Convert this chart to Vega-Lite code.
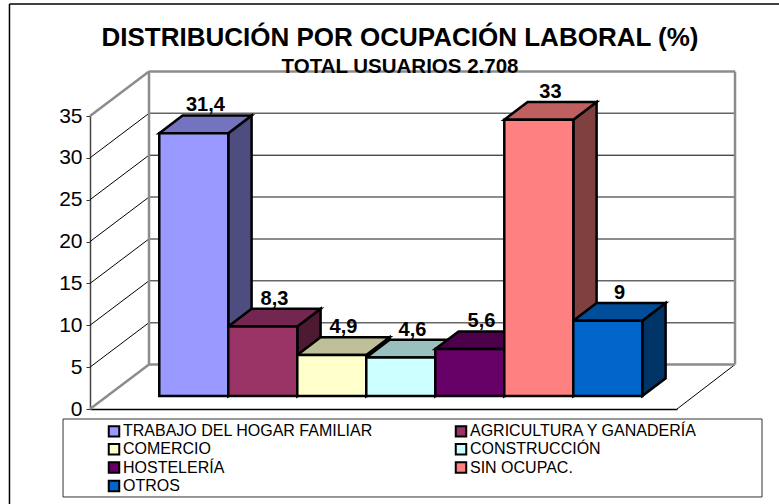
{
 "$schema":"https://vega.github.io/schema/vega-lite/v6.json",
 "width":587,"height":293,
 "autosize":{"type":"none"},
 "padding":{"left":90,"top":116,"right":102,"bottom":95},
 "background":"white",
 "title":{"text":"DISTRIBUCIÓN POR OCUPACIÓN LABORAL (%)","subtitle":"TOTAL USUARIOS 2.708","anchor":"middle","dx":16.5,"offset":-74,"font":"Liberation Sans","fontSize":26,"fontWeight":"bold","color":"#000","subtitleFont":"Liberation Sans","subtitleFontSize":20.5,"subtitleFontWeight":"bold","subtitleColor":"#000","subtitlePadding":6},
 "config":{"view":{"stroke":null},"font":"Liberation Sans"},
 "data":{"values":[
  {"ocupacion":"TRABAJO DEL HOGAR FAMILIAR","pct":31.4},
  {"ocupacion":"AGRICULTURA Y GANADERÍA","pct":8.3},
  {"ocupacion":"COMERCIO","pct":4.9},
  {"ocupacion":"CONSTRUCCIÓN","pct":4.6},
  {"ocupacion":"HOSTELERÍA","pct":5.6},
  {"ocupacion":"SIN OCUPAC.","pct":33},
  {"ocupacion":"OTROS","pct":9}
 ]},
 "transform":[
  {"window":[{"op":"row_number","as":"n"}]},
  {"calculate":"0.004+datum.n","as":"x0"},
  {"calculate":"datum.x0+1","as":"x1"},
  {"calculate":"1.553+datum.pct","as":"top"},
  {"calculate":"replace(toString(datum.pct),'.',',')","as":"label"}
 ],
 "resolve":{"scale":{"fill":"independent"}},
 "layer":[
  {"data":{"values":[{}]},"mark":{"type":"rule","stroke":"#000","strokeWidth":1.5},
   "encoding":{"x":{"datum":-1.167,"type":"quantitative","scale":{"domain":[0,8.507],"nice":false,"zero":false},"axis":{"title":null,"labels":false,"ticks":false,"grid":false,"domainColor":"#000","domainWidth":1.5}},"x2":{"datum":9.986},"y":{"datum":48.39,"type":"quantitative","scale":{"domain":[0,35],"nice":false},"axis":{"title":null,"values":[0,5,10,15,20,25,30,35],"grid":false,"labelFont":"Liberation Sans","labelFontSize":21,"labelColor":"#000","labelPadding":4,"tickColor":"#333","tickSize":4,"domainColor":"#444","domainWidth":1.5}}}},
  {"data":{"values":[{}]},"mark":{"type":"rule","stroke":"#000","strokeWidth":1.5},
   "encoding":{"x":{"datum":-1.167,"type":"quantitative"},"y":{"datum":48.39,"type":"quantitative"},"y2":{"datum":-11.35}}},
  {"data":{"values":[{"nivel":5},{"nivel":10},{"nivel":15},{"nivel":20},{"nivel":30}]},
   "transform":[{"calculate":"datum.nivel+5.317","as":"fondo"}],
   "mark":{"type":"rule","stroke":"#666","strokeWidth":1.5},
   "encoding":{"x":{"datum":0.855,"type":"quantitative"},"x2":{"datum":9.348},"y":{"field":"fondo","type":"quantitative"}}},
  {"data":{"values":[{"nivel":25}]},
   "transform":[{"calculate":"datum.nivel+5.317","as":"fondo"}],
   "mark":{"type":"rule","stroke":"#000","strokeWidth":1},
   "encoding":{"x":{"datum":0.855,"type":"quantitative"},"x2":{"datum":9.348},"y":{"field":"fondo","type":"quantitative"}}},
  {"data":{"values":[{"nivel":5},{"nivel":10},{"nivel":15},{"nivel":20},{"nivel":25},{"nivel":30}]},
   "transform":[{"calculate":"datum.nivel+5.317","as":"fondo"}],
   "mark":{"type":"rule","stroke":"#000","strokeWidth":1},
   "encoding":{"x":{"datum":0,"type":"quantitative"},"x2":{"datum":0.855},"y":{"field":"nivel","type":"quantitative"},"y2":{"field":"fondo"}}},
  {"data":{"values":[{}]},"mark":{"type":"rule","stroke":"#000","strokeWidth":1},
   "encoding":{"x":{"datum":8.507,"type":"quantitative"},"x2":{"datum":9.348},"y":{"datum":0,"type":"quantitative"},"y2":{"datum":5.317}}},
  {"data":{"values":[{}]},"mark":{"type":"rule","stroke":"#8c8c8c","strokeWidth":2.5},
   "encoding":{"x":{"datum":0,"type":"quantitative"},"x2":{"datum":0.855},"y":{"datum":35,"type":"quantitative"},"y2":{"datum":40.317}}},
  {"data":{"values":[{}]},"mark":{"type":"rule","stroke":"#8c8c8c","strokeWidth":2.5},
   "encoding":{"x":{"datum":0,"type":"quantitative"},"x2":{"datum":0.855},"y":{"datum":0,"type":"quantitative"},"y2":{"datum":5.317}}},
  {"data":{"values":[{}]},"mark":{"type":"rule","stroke":"#8c8c8c","strokeWidth":2.5},
   "encoding":{"x":{"datum":0.855,"type":"quantitative"},"y":{"datum":5.317,"type":"quantitative"},"y2":{"datum":40.317}}},
  {"data":{"values":[{}]},"mark":{"type":"rule","stroke":"#8c8c8c","strokeWidth":2.5},
   "encoding":{"x":{"datum":9.348,"type":"quantitative"},"y":{"datum":5.317,"type":"quantitative"},"y2":{"datum":40.317}}},
  {"data":{"values":[{}]},"mark":{"type":"rule","stroke":"#8c8c8c","strokeWidth":2.5},
   "encoding":{"x":{"datum":0.855,"type":"quantitative"},"x2":{"datum":9.348},"y":{"datum":40.317,"type":"quantitative"}}},
  {"data":{"values":[{}]},"mark":{"type":"rule","stroke":"#8c8c8c","strokeWidth":2.5},
   "encoding":{"x":{"datum":0.855,"type":"quantitative"},"x2":{"datum":9.348},"y":{"datum":5.317,"type":"quantitative"}}},
  {"data":{"values":[{}]},"mark":{"type":"rect","fill":"white","stroke":"#333","strokeWidth":1},
   "encoding":{"x":{"datum":-0.391,"type":"quantitative"},"x2":{"datum":9.739},"y":{"datum":-1.195,"type":"quantitative"},"y2":{"datum":-10.51}}},
  {"transform":[
    {"calculate":"[0,1]","as":"paso"},{"flatten":["paso"]},
    {"calculate":"datum.x1+datum.paso*0.338","as":"sx"},
    {"calculate":"1.553+datum.paso*2.115","as":"sy"},
    {"calculate":"datum.top+datum.paso*2.115","as":"sy2"}],
   "mark":{"type":"area","orient":"vertical","stroke":"#000","strokeWidth":2.5,"strokeJoin":"miter","opacity":1},
   "encoding":{"x":{"field":"sx","type":"quantitative"},"y":{"field":"sy","type":"quantitative"},"y2":{"field":"sy2"},"detail":{"field":"n"},
    "fill":{"field":"ocupacion","type":"nominal","legend":null,"scale":{"domain":["TRABAJO DEL HOGAR FAMILIAR","AGRICULTURA Y GANADERÍA","COMERCIO","CONSTRUCCIÓN","HOSTELERÍA","SIN OCUPAC.","OTROS"],"range":["#4D4D80","#4D1933","#808066","#668080","#330033","#804040","#003366"]}}}},
  {"transform":[
    {"calculate":"[0,0.338,1,1.338]","as":"paso"},{"flatten":["paso"]},
    {"calculate":"datum.x0+datum.paso","as":"sx"},
    {"calculate":"datum.top+max(0,datum.paso-1)/0.338*2.115","as":"sy"},
    {"calculate":"datum.top+min(datum.paso,0.338)/0.338*2.115","as":"sy2"}],
   "mark":{"type":"area","orient":"vertical","stroke":"#000","strokeWidth":2.5,"strokeJoin":"miter","opacity":1},
   "encoding":{"x":{"field":"sx","type":"quantitative"},"y":{"field":"sy","type":"quantitative"},"y2":{"field":"sy2"},"detail":{"field":"n"},
    "fill":{"field":"ocupacion","type":"nominal","legend":null,"scale":{"domain":["TRABAJO DEL HOGAR FAMILIAR","AGRICULTURA Y GANADERÍA","COMERCIO","CONSTRUCCIÓN","HOSTELERÍA","SIN OCUPAC.","OTROS"],"range":["#7373BF","#732650","#BFBF99","#99BFBF","#4C004C","#BF6060","#004D99"]}}}},
  {"transform":[{"calculate":"1.553","as":"base"}],
   "mark":{"type":"rect","stroke":"#000","strokeWidth":2.5,"opacity":1},
   "encoding":{"x":{"field":"x0","type":"quantitative"},"x2":{"field":"x1"},"y":{"field":"base","type":"quantitative"},"y2":{"field":"top"},
    "color":{"field":"ocupacion","type":"nominal","sort":null,
     "scale":{"domain":["TRABAJO DEL HOGAR FAMILIAR","AGRICULTURA Y GANADERÍA","COMERCIO","CONSTRUCCIÓN","HOSTELERÍA","SIN OCUPAC.","OTROS"],"range":["#9999FF","#993366","#FFFFCC","#CCFFFF","#660066","#FF8080","#0066CC"]},
     "legend":{"title":null,"orient":"none","legendX":16,"legendY":307,"columns":2,"direction":"horizontal","padding":0,"symbolType":"square","symbolSize":110,"symbolStrokeColor":"#000","symbolStrokeWidth":2,"symbolOpacity":1,"labelFont":"Liberation Sans","labelFontSize":16,"labelColor":"#000","labelOffset":1,"labelLimit":400,"rowPadding":-1.7,"columnPadding":78,"gridAlign":"each"}}}},
  {"transform":[{"calculate":"datum.top+2.115","as":"ty"},{"calculate":"datum.x0+0.669","as":"tx"}],
   "mark":{"type":"text","font":"Liberation Sans","fontSize":20,"fontWeight":"bold","color":"#000","baseline":"alphabetic","dy":-4},
   "encoding":{"x":{"field":"tx","type":"quantitative"},"y":{"field":"ty","type":"quantitative"},"text":{"field":"label"}}}
 ]
}
